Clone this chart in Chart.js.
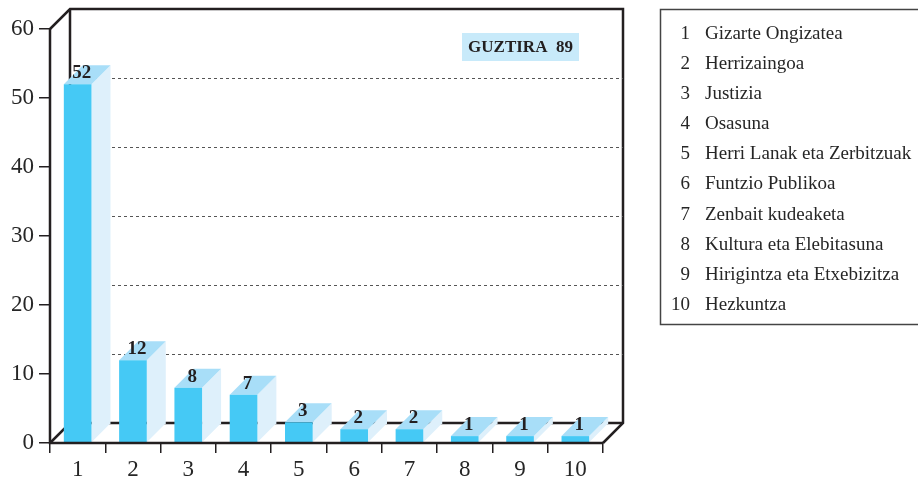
<!DOCTYPE html>
<html>
<head>
<meta charset="utf-8">
<script src="https://cdn.jsdelivr.net/npm/chart.js@4.4.1/dist/chart.umd.min.js"></script>
<style>
    html, body { margin: 0; padding: 0; background: #fff; }
</style>
</head>
<body>
<canvas id="myChart" width="918" height="484"></canvas>
<script>
// Chart data
const categories = ['1', '2', '3', '4', '5', '6', '7', '8', '9', '10'];
const categoryNames = [
    'Gizarte Ongizatea',
    'Herrizaingoa',
    'Justizia',
    'Osasuna',
    'Herri Lanak eta Zerbitzuak',
    'Funtzio Publikoa',
    'Zenbait kudeaketa',
    'Kultura eta Elebitasuna',
    'Hirigintza eta Etxebizitza',
    'Hezkuntza'
];
const values = [52, 12, 8, 7, 3, 2, 2, 1, 1, 1];
const yTicks = [0, 10, 20, 30, 40, 50, 60];
const totalLabel = 'GUZTIRA';

// Colours
const FRONT = 'rgb(69, 201, 245)';
const TOP = 'rgb(168, 222, 248)';
const SIDE = 'rgb(222, 240, 251)';
const INK = '#231f20';
const TEXT = '#262626';
const BOX_DEPTH = 20;
const BAR_DEPTH = 19;
const SERIF = '"Liberation Serif", "DejaVu Serif", serif';

// Draws the 3D box, bar faces, labels, total and the category list
const threeD = {
    id: 'threeD',
    beforeDatasetsDraw(chart) {
        const { ctx, chartArea: a, scales: { y } } = chart;
        const d = BOX_DEPTH;
        ctx.save();
        ctx.strokeStyle = INK;
        ctx.lineWidth = 2.5;
        ctx.lineJoin = 'miter';

        // back wall outline
        ctx.beginPath();
        ctx.moveTo(a.left, a.top);
        ctx.lineTo(a.left + d, a.top - d);
        ctx.lineTo(a.right + d, a.top - d);
        ctx.lineTo(a.right + d, a.bottom - d);
        ctx.lineTo(a.right, a.bottom);
        ctx.stroke();

        ctx.beginPath();
        ctx.moveTo(a.left + d, a.top - d);
        ctx.lineTo(a.left + d, a.bottom - d);
        ctx.moveTo(a.left, a.bottom);
        ctx.lineTo(a.left + d, a.bottom - d);
        ctx.lineTo(a.right + d, a.bottom - d);
        ctx.stroke();

        // dotted gridlines on back wall
        ctx.strokeStyle = '#555';
        ctx.lineWidth = 1;
        ctx.setLineDash([3, 3]);
        yTicks.forEach(v => {
            if (v <= y.min || v >= y.max) return;
            const yy = Math.round(y.getPixelForValue(v) - d) + 0.5;
            ctx.beginPath();
            ctx.moveTo(a.left + d, yy);
            ctx.lineTo(a.right + d, yy);
            ctx.stroke();
        });
        ctx.setLineDash([]);

        // side and top faces of the bars
        const meta = chart.getDatasetMeta(0);
        const b = BAR_DEPTH;
        meta.data.forEach(bar => {
            const p = bar.getProps(['x', 'y', 'base', 'width'], true);
            const l = p.x - p.width / 2;
            const r = p.x + p.width / 2;
            ctx.fillStyle = SIDE;
            ctx.beginPath();
            ctx.moveTo(r, p.y);
            ctx.lineTo(r + b, p.y - b);
            ctx.lineTo(r + b, p.base - b);
            ctx.lineTo(r, p.base);
            ctx.closePath();
            ctx.fill();
            ctx.fillStyle = TOP;
            ctx.beginPath();
            ctx.moveTo(l, p.y);
            ctx.lineTo(l + b, p.y - b);
            ctx.lineTo(r + b, p.y - b);
            ctx.lineTo(r, p.y);
            ctx.closePath();
            ctx.fill();
        });
        ctx.restore();
    },
    afterDatasetsDraw(chart) {
        const { ctx, chartArea: a } = chart;
        ctx.save();
        ctx.strokeStyle = INK;
        ctx.lineWidth = 2.5;
        ctx.beginPath();
        ctx.moveTo(a.left, a.top);
        ctx.lineTo(a.left, a.bottom);
        ctx.lineTo(a.right, a.bottom);
        ctx.stroke();

        // value labels
        const meta = chart.getDatasetMeta(0);
        ctx.fillStyle = INK;
        ctx.font = 'bold 19px ' + SERIF;
        ctx.textAlign = 'center';
        ctx.textBaseline = 'middle';
        meta.data.forEach((bar, i) => {
            ctx.fillText(values[i], bar.x + 4, bar.y - 11);
        });

        // total box
        const total = values.reduce((s, v) => s + v, 0);
        ctx.fillStyle = 'rgb(200, 234, 250)';
        ctx.fillRect(462, 33, 117, 28);
        ctx.fillStyle = INK;
        ctx.font = 'bold 17px ' + SERIF;
        ctx.fillText(totalLabel + '  ' + total, 520.5, 48);

        // category list
        ctx.strokeStyle = '#444';
        ctx.lineWidth = 1.5;
        ctx.strokeRect(660.5, 9.5, 280, 315);
        ctx.fillStyle = TEXT;
        ctx.font = '19px ' + SERIF;
        categories.forEach((c, i) => {
            const yy = 34 + i * 30.1;
            ctx.textAlign = 'right';
            ctx.fillText(c, 690, yy);
            ctx.textAlign = 'left';
            ctx.fillText(categoryNames[i], 705, yy);
        });
        ctx.restore();
    }
};

const ctx = document.getElementById('myChart').getContext('2d');
const chart = new Chart(ctx, {
    type: 'bar',
    data: {
        labels: categories,
        datasets: [{
            data: values,
            backgroundColor: FRONT,
            borderWidth: 0,
            barPercentage: 0.5,
            categoryPercentage: 1
        }]
    },
    options: {
        responsive: false,
        animation: false,
        devicePixelRatio: 1,
        layout: { padding: { left: 0, top: 29, right: 315, bottom: 0 } },
        plugins: {
            legend: { display: false },
            tooltip: { enabled: false }
        },
        scales: {
            x: {
                offset: true,
                afterFit: s => { s.height = 41; },
                border: { display: false },
                grid: {
                    offset: true,
                    drawOnChartArea: false,
                    drawTicks: true,
                    tickLength: 10,
                    color: INK,
                    lineWidth: 1.5
                },
                ticks: {
                    color: TEXT,
                    font: { family: SERIF, size: 23 },
                    padding: 3,
                    maxRotation: 0
                }
            },
            y: {
                min: 0,
                max: 60,
                afterFit: s => { s.width = 50; },
                afterBuildTicks: s => { s.ticks = yTicks.map(v => ({ value: v })); },
                border: { display: false },
                grid: {
                    drawOnChartArea: false,
                    drawTicks: true,
                    tickLength: 11,
                    color: INK,
                    lineWidth: 1.5
                },
                ticks: {
                    color: TEXT,
                    font: { family: SERIF, size: 23 },
                    padding: 5
                }
            }
        }
    },
    plugins: [threeD]
});
</script>
</body>
</html>
